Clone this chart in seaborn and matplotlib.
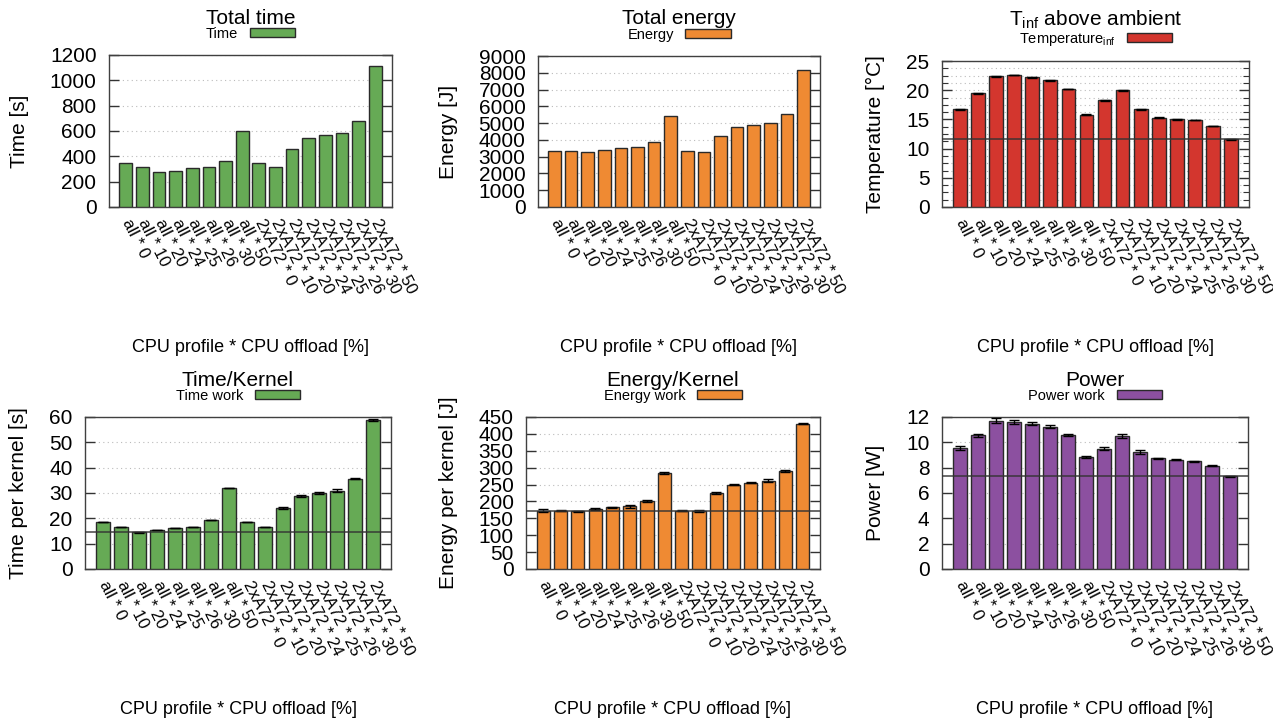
import numpy as np
import pandas as pd
import matplotlib
matplotlib.use("Agg")
import matplotlib.pyplot as plt
from matplotlib.ticker import MultipleLocator, AutoMinorLocator
import seaborn as sns

categories = ["all * 0", "all * 10", "all * 20", "all * 24", "all * 25", "all * 26",
              "all * 30", "all * 50", "2xA72 * 0", "2xA72 * 10", "2xA72 * 20",
              "2xA72 * 24", "2xA72 * 25", "2xA72 * 26", "2xA72 * 30", "2xA72 * 50"]

total_time = [347, 312, 276, 286, 305, 312, 362, 601, 347, 312, 457, 546, 567, 583, 677, 1116]
total_energy = [3311, 3311, 3271, 3390, 3509, 3568, 3885, 5412, 3311, 3271, 4222, 4758, 4877, 4996, 5551, 8187]
temperature = [16.7, 19.5, 22.4, 22.6, 22.2, 21.7, 20.2, 15.8, 18.3, 20.0, 16.7, 15.3, 15.0, 14.9, 13.9, 11.6]
temperature_err = [0.1, 0.1, 0.1, 0.05, 0.05, 0.05, 0.05, 0.1, 0.1, 0.1, 0.05, 0.1, 0.1, 0.05, 0.05, 0.05]
time_kernel = [18.5, 16.5, 14.5, 15.3, 16.1, 16.5, 19.3, 32.0, 18.5, 16.5, 24.1, 28.8, 29.9, 30.9, 35.6, 58.8]
time_kernel_err = [0.1, 0.1, 0.1, 0.1, 0.1, 0.1, 0.1, 0.1, 0.1, 0.1, 0.3, 0.35, 0.3, 0.5, 0.2, 0.3]
energy_kernel = [173, 173, 171, 178, 183, 186, 201, 284, 173, 173, 224, 250, 256, 261, 290, 430]
energy_kernel_err = [4, 2, 1, 2, 2, 4, 2, 4, 2, 3, 3, 2, 2, 4, 2, 2]
power = [9.55, 10.56, 11.69, 11.63, 11.48, 11.24, 10.56, 8.86, 9.51, 10.50, 9.25, 8.75, 8.62, 8.49, 8.17, 7.31]
power_err = [0.15, 0.1, 0.2, 0.15, 0.15, 0.12, 0.08, 0.06, 0.12, 0.15, 0.15, 0.04, 0.03, 0.03, 0.03, 0.02]

GREEN = "#66aa55"
ORANGE = "#ef8a33"
RED = "#d3362e"
PURPLE = "#8c50a0"

sns.set_style("ticks")
plt.rcParams["font.family"] = ["Liberation Sans", "DejaVu Sans"]
for k in ["text.color", "axes.labelcolor", "xtick.color", "ytick.color"]:
    plt.rcParams[k] = "black"

W, H = 1273, 724
fig = plt.figure(figsize=(W / 100, H / 100), dpi=100)

panels = [
    ("Total time", "Time", "Time [s]", total_time, None, GREEN, 1200, 200, (109, 392, 55, 207), False, False),
    ("Total energy", "Energy", "Energy [J]", total_energy, None, ORANGE, 9000, 1000, (538, 820, 56, 207), False, False),
    ("T$_\\mathregular{inf}$ above ambient", "Temperature$_\\mathregular{inf}$", "Temperature [°C]",
     temperature, temperature_err, RED, 25, 5, (942, 1249, 61, 207), True, True),
    ("Time/Kernel", "Time work", "Time per kernel [s]", time_kernel, time_kernel_err, GREEN, 60, 10,
     (85, 391, 417, 569), True, False),
    ("Energy/Kernel", "Energy work", "Energy per kernel [J]", energy_kernel, energy_kernel_err, ORANGE, 450, 50,
     (526, 820, 417, 569), True, False),
    ("Power", "Power work", "Power [W]", power, power_err, PURPLE, 12, 2, (942, 1248, 417, 569), True, False),
]

title_y = [18, 18, 20, 381, 381, 381]
legend_y = [34, 35, 39, 396, 396, 396]
xlabel_y = [348, 348, 348, 710, 710, 710]

for i, (title, leg, ylab, vals, err, col, ymax, step, box, refline, minor) in enumerate(panels):
    l, r, t, b = box
    ax = fig.add_axes([l / W, 1 - b / H, (r - l) / W, (b - t) / H])
    h = b - t
    df = pd.DataFrame({"cat": categories, "val": vals})
    sns.barplot(data=df, x="cat", y="val", color=col, saturation=1, width=0.76,
                edgecolor="#2a2a2a", linewidth=1.0, ax=ax, label=leg, zorder=3)
    if err is not None:
        ax.errorbar(np.arange(len(vals)), vals, yerr=err, fmt="none", ecolor="black",
                    elinewidth=1.0, capsize=3.5, capthick=1.0, zorder=4)
    if refline:
        ax.axhline(min(vals), color="#333333", lw=1.2, alpha=0.85, zorder=5)
    ax.set_xlim(-1, 16)
    ax.set_ylim(0, ymax)
    ax.yaxis.set_major_locator(MultipleLocator(step))
    if minor:
        ax.yaxis.set_minor_locator(AutoMinorLocator(4))
        ax.grid(axis="y", which="both", ls=(0, (1, 3)), color="#bbbbbb", lw=0.8, zorder=0)
    else:
        ax.grid(axis="y", which="major", ls=(0, (1, 3)), color="#bbbbbb", lw=0.8, zorder=0)
    ax.set_axisbelow(True)
    ax.tick_params(axis="y", which="major", direction="in", length=7, width=1, right=True,
                   labelsize=15, pad=9, color="#333333", labelcolor="black")
    ax.tick_params(axis="y", which="minor", direction="in", length=4, width=0.8, right=True,
                   color="#333333")
    ax.tick_params(axis="x", length=0, pad=9, labelcolor="black")
    ax.set_xticks(np.arange(len(categories)))
    ax.set_xticklabels(categories, rotation=-63, ha="left", va="center",
                       rotation_mode="anchor", fontsize=12)
    for s in ax.spines.values():
        s.set_visible(True)
        s.set_color("#404040")
        s.set_linewidth(1.0)
    ax.set_ylabel(ylab, fontsize=15, labelpad=15, color="black")
    ax.set_xlabel("CPU profile * CPU offload [%]", fontsize=13, color="black")
    ax.xaxis.set_label_coords(0.5, (b - xlabel_y[i]) / h)
    ax.xaxis.label.set_va("center")
    ax.set_title(title, fontsize=15, y=1 + (t - title_y[i]) / h, va="center", pad=0, color="black")
    ax.legend(loc="center", bbox_to_anchor=(0.5, 1 + (t - legend_y[i]) / h), frameon=False,
              markerfirst=False, fontsize=10.5, handlelength=3.1, handleheight=0.6,
              handletextpad=0.8, borderpad=0, borderaxespad=0, labelcolor="black")

fig.savefig("out.png", dpi=100)
